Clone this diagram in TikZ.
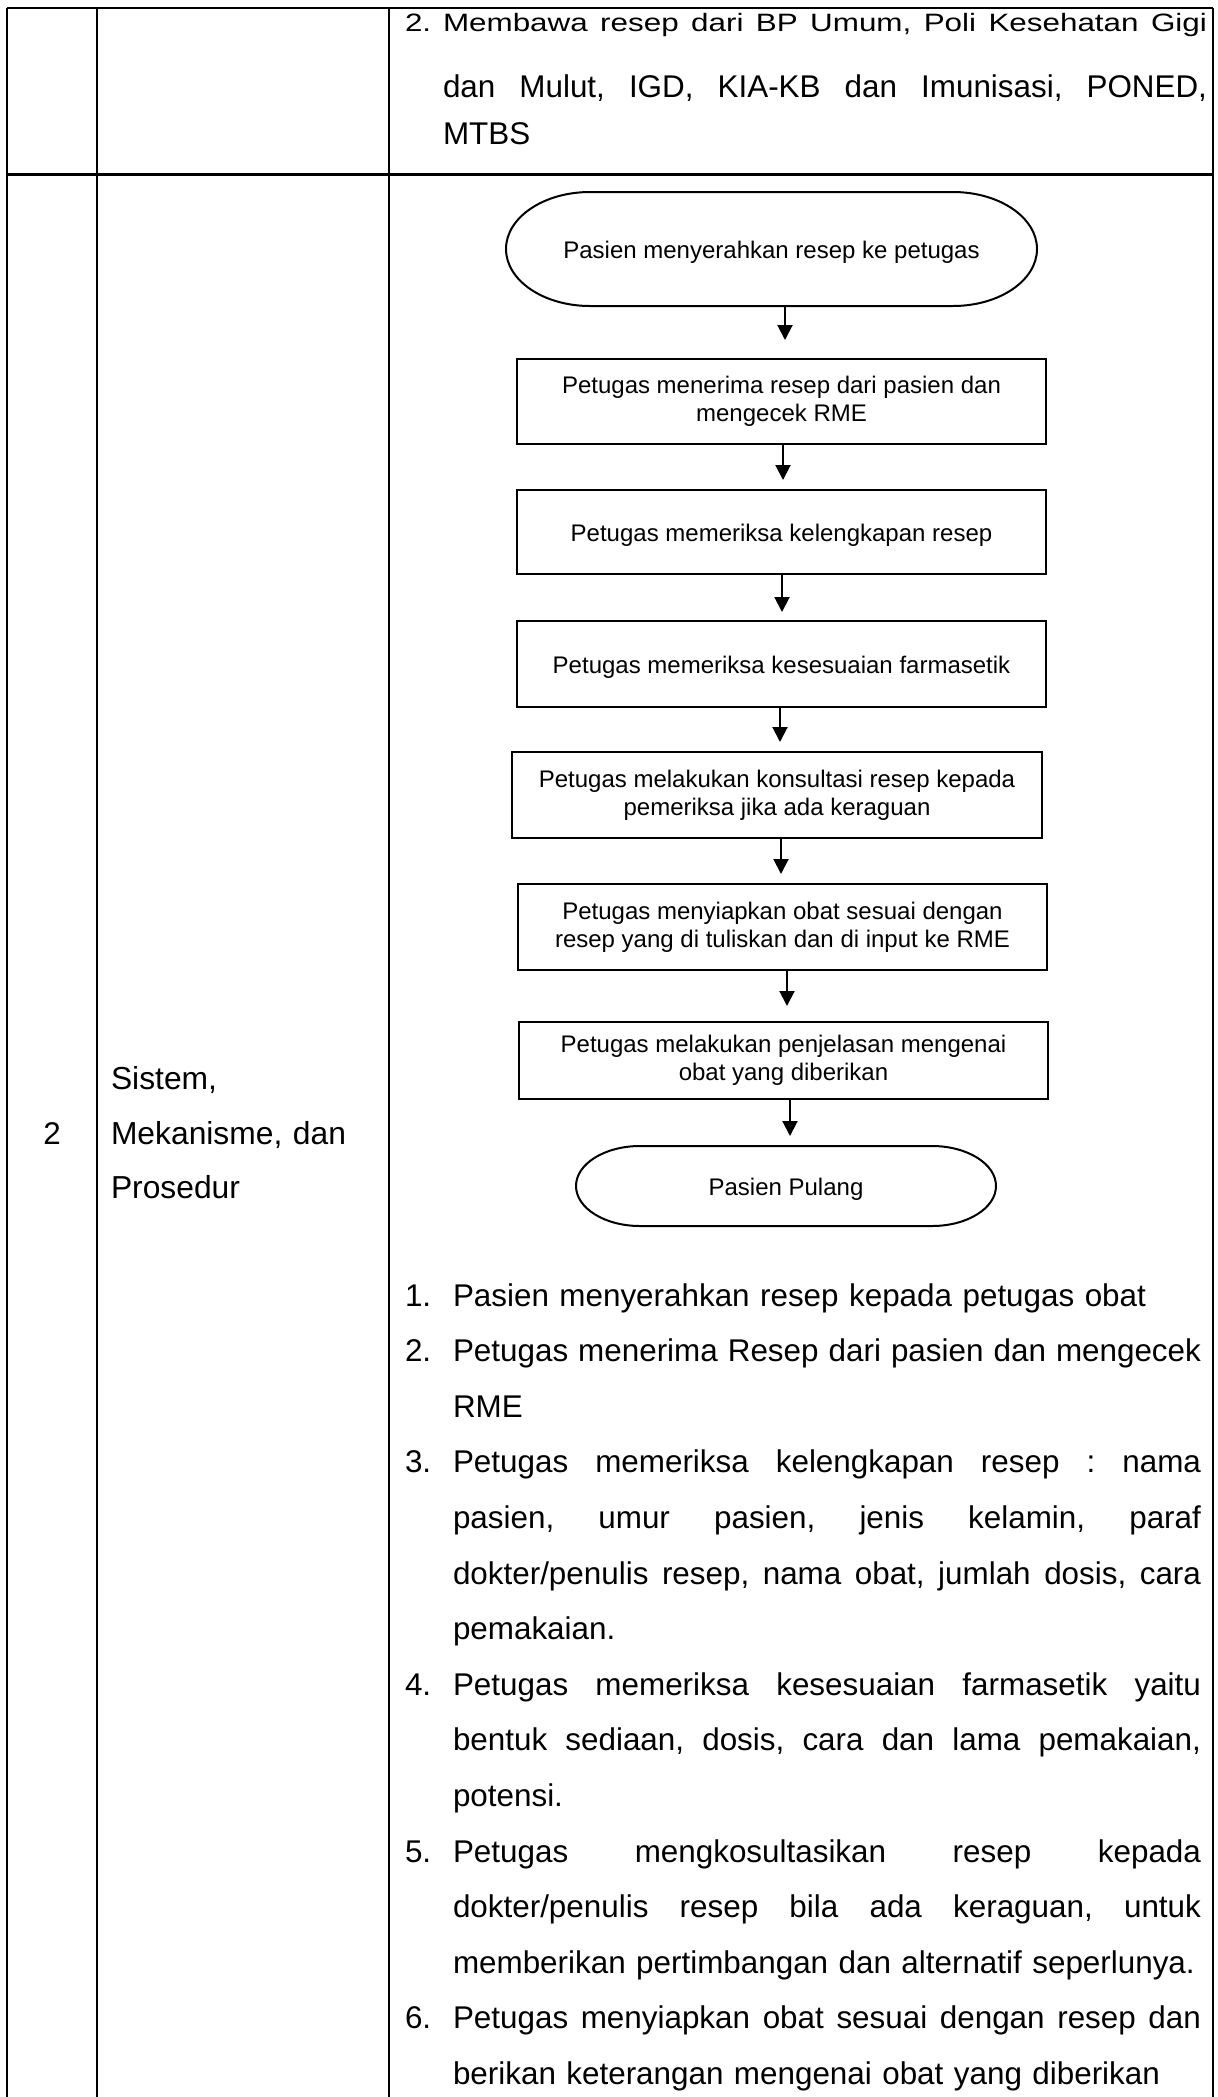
\documentclass[tikz,border=0pt]{standalone}
\usepackage{fontspec}
\setmainfont{Liberation Sans}
\usetikzlibrary{arrows.meta}
\newcommand\jl[2][748pt]{\leavevmode\hbox to #1{\frenchspacing\spaceskip=0.278em plus 1.5em minus 0.06em\relax #2}}
\newcommand\natl[1]{\mbox{#1}}
\newcommand\squash[1]{\scalebox{1}[0.8]{#1}}
\newcommand\stadium[3]{%
  \draw[shapeline] ([xshift=-#2pt]#1.north east)
    arc[start angle=90,end angle=-90,x radius=#2pt,y radius=#3pt]
    -- ([xshift=#2pt]#1.south west)
    arc[start angle=270,end angle=90,x radius=#2pt,y radius=#3pt]
    -- cycle;}
\begin{document}
\begin{tikzpicture}[x=1pt,y=-1pt,
  tableline/.style={line width=2.2pt},
  shapeline/.style={line width=2pt},
  flowtext/.style={inner sep=0pt,outer sep=0pt,align=center,
     font=\fontsize{24}{27.6}\selectfont,
     execute at begin node={\rule{0pt}{23.5pt}}},
  flowbox/.style={flowtext,draw,line width=2pt},
  flowoval/.style={flowtext},
  flowarrow/.style={line width=2pt,-{Triangle[width=15pt,length=15pt]}},
  bigtext/.style={font=\fontsize{31.4}{55.6}\selectfont,inner sep=0pt,outer sep=0pt},
  listnum/.style={bigtext,anchor=base west},
  listitem/.style={bigtext,anchor=base west,text width=748pt,align=left},
]
\useasboundingbox (0,0) rectangle (1218,2097);

% table grid
\draw[tableline] (7,8) -- (1213,8);
\draw[tableline] (7,174.5) -- (1213,174.5);
\foreach \x in {7,97,389,1213} \draw[tableline] (\x,8) -- (\x,2100);

% row 1 text (first line slightly squashed in the reference)
\node[listnum] (n0) at (405,31) {\squash{2.}};
\node[listitem,text width=764pt] (t0a) at (443,31)
  {\squash{\jl[764pt]{Membawa resep dari BP Umum, Poli Kesehatan Gigi}}};
\node[listitem,text width=764pt] (t0b) at (443,97)
  {\jl[764pt]{dan Mulut, IGD, KIA-KB dan Imunisasi, PONED,}};
\node[listitem,text width=764pt] (t0c) at (443,144)
  {\natl{MTBS}};

% row 2 left columns
\node[bigtext,anchor=base] (no) at (52,1144) {2};
\node[bigtext,anchor=base west,text width=270pt,align=left,font=\fontsize{31.8}{54.5}\selectfont] (aspek) at (111,1089.5)
  {Sistem,\\Mekanisme, dan\\Prosedur};

% flowchart
\node[flowoval,minimum width=531pt,minimum height=114pt] (o1) at (771.5,249) {Pasien menyerahkan resep ke petugas};
\stadium{o1}{84}{57}
\node[flowbox,minimum width=529pt,minimum height=85pt] (b1) at (781.5,401.5) {Petugas menerima resep dari pasien dan\\mengecek RME};
\node[flowbox,minimum width=529pt,minimum height=84pt] (b2) at (781.5,532) {Petugas memeriksa kelengkapan resep};
\node[flowbox,minimum width=529pt,minimum height=86pt] (b3) at (781.5,664) {Petugas memeriksa kesesuaian farmasetik};
\node[flowbox,minimum width=530pt,minimum height=86pt] (b4) at (777,795) {Petugas melakukan konsultasi resep kepada\\pemeriksa jika ada keraguan};
\node[flowbox,minimum width=529pt,minimum height=86pt] (b5) at (782.5,927) {Petugas menyiapkan obat sesuai dengan\\resep yang di tuliskan dan di input ke RME};
\node[flowbox,minimum width=529pt,minimum height=77pt] (b6) at (783.5,1060.5) {Petugas melakukan penjelasan mengenai\\obat yang diberikan};
\node[flowoval,minimum width=420pt,minimum height=80pt] (o2) at (786,1186) {Pasien Pulang};
\stadium{o2}{64}{40}

\draw[flowarrow,shorten >=19pt] ([xshift=13.5pt]o1.south) -- ([xshift=13.5pt]o1.south |- b1.north);
\draw[flowarrow,shorten >=10pt] ([xshift=1.5pt]b1.south) -- ([xshift=1.5pt]b1.south |- b2.north);
\draw[flowarrow,shorten >=9pt] ([xshift=0.5pt]b2.south) -- ([xshift=0.5pt]b2.south |- b3.north);
\draw[flowarrow,shorten >=10pt] ([xshift=-1.5pt]b3.south) -- ([xshift=-1.5pt]b3.south |- b4.north);
\draw[flowarrow,shorten >=10pt] ([xshift=4pt]b4.south) -- ([xshift=4pt]b4.south |- b5.north);
\draw[flowarrow,shorten >=16pt] ([xshift=4.5pt]b5.south) -- ([xshift=4.5pt]b5.south |- b6.north);
\draw[flowarrow,shorten >=10pt] ([xshift=6.5pt]b6.south) -- ([xshift=6.5pt]b6.south |- o2.north);

% numbered list
\node[listnum] (n1) at (405,1306) {1.};
\node[listitem] (i1) at (453,1306) {\natl{Pasien menyerahkan resep kepada petugas obat}};
\node[listnum] (n2) at (405,1361.6) {2.};
\node[listitem] (i2) at (453,1361.6) {\jl{Petugas menerima Resep dari pasien dan mengecek}\\\natl{RME}};
\node[listnum] (n3) at (405,1472.8) {3.};
\node[listitem] (i3) at (453,1472.8) {\jl{Petugas memeriksa kelengkapan resep : nama}\\\jl{pasien, umur pasien, jenis kelamin, paraf}\\\jl{dokter/penulis resep, nama obat, jumlah dosis, cara}\\\natl{pemakaian.}};
\node[listnum] (n4) at (405,1695.2) {4.};
\node[listitem] (i4) at (453,1695.2) {\jl{Petugas memeriksa kesesuaian farmasetik yaitu}\\\jl{bentuk sediaan, dosis, cara dan lama pemakaian,}\\\natl{potensi.}};
\node[listnum] (n5) at (405,1862) {5.};
\node[listitem] (i5) at (453,1862) {\jl{Petugas mengkosultasikan resep kepada}\\\jl{dokter/penulis resep bila ada keraguan, untuk}\\\natl{memberikan pertimbangan dan alternatif seperlunya.}};
\node[listnum] (n6) at (405,2028.8) {6.};
\node[listitem] (i6) at (453,2028.8) {\jl{Petugas menyiapkan obat sesuai dengan resep dan}\\\natl{berikan keterangan mengenai obat yang diberikan}};
\end{tikzpicture}
\end{document}
